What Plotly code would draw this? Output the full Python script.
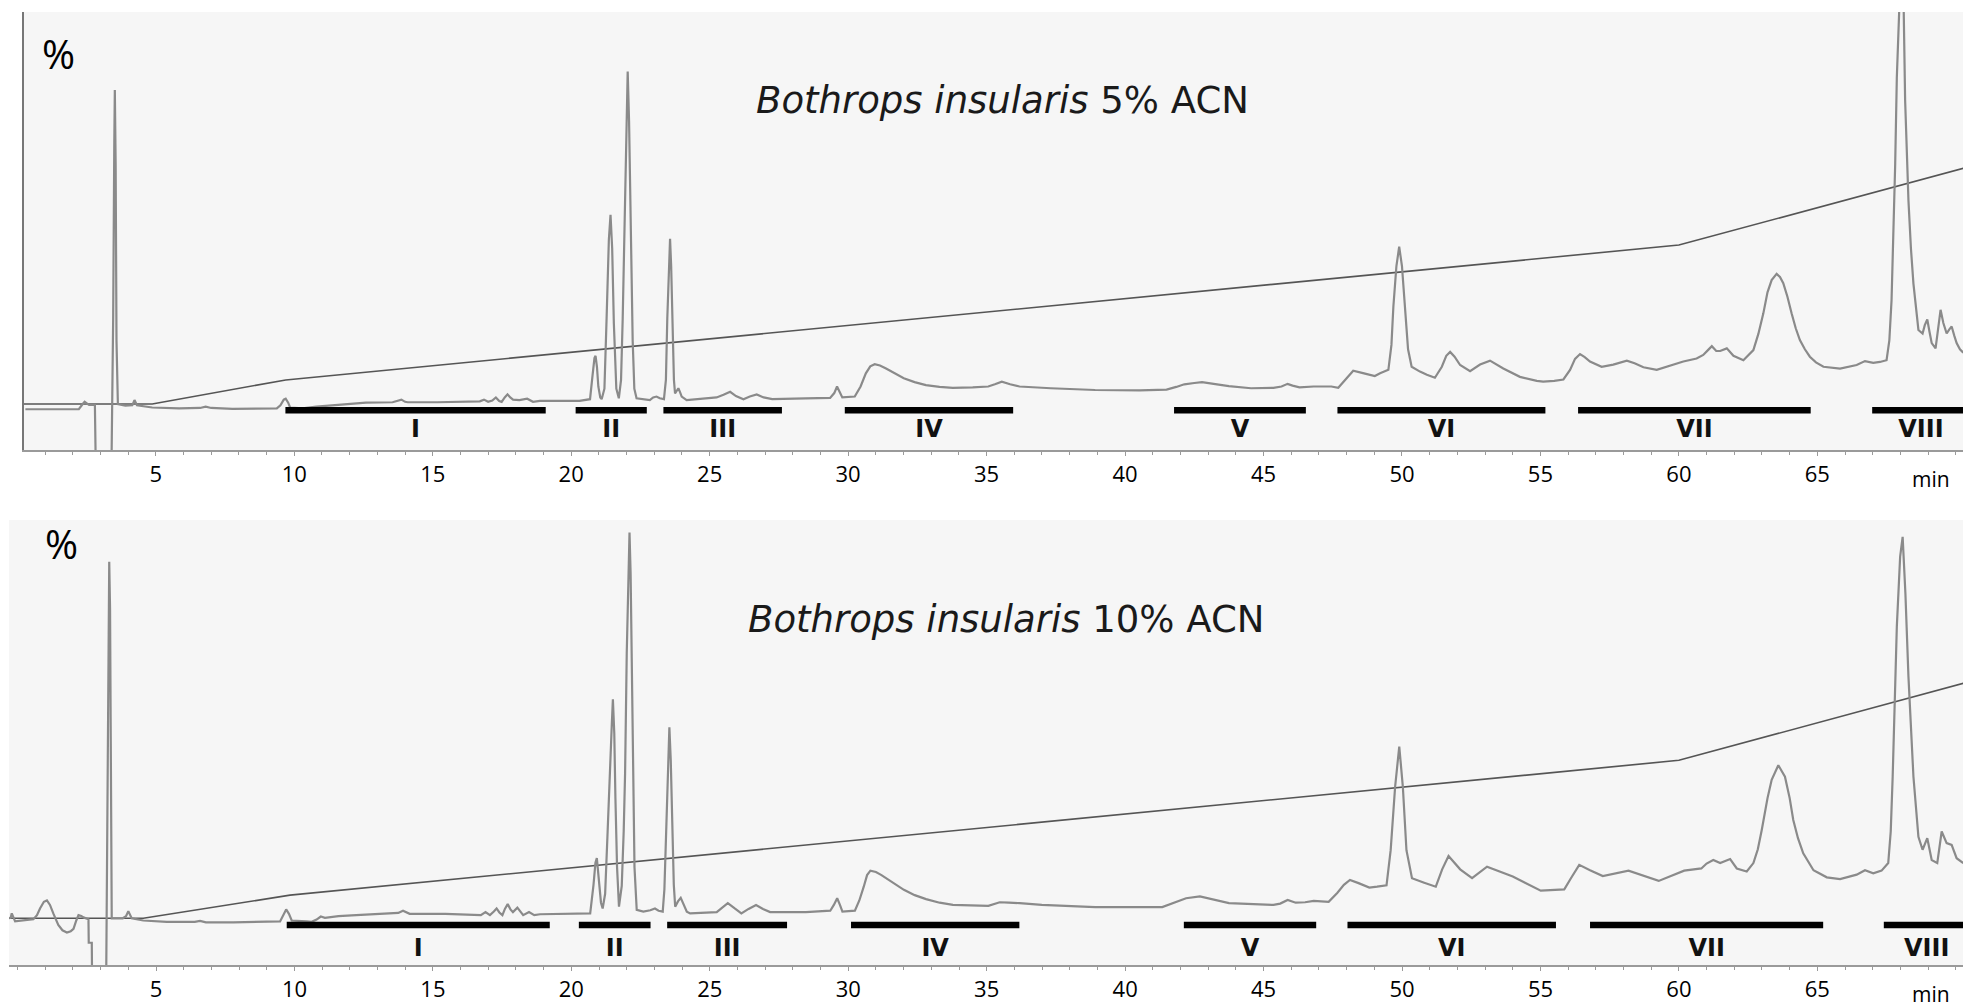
import plotly.graph_objects as go

# ---------------- data ----------------
# Upper chromatogram (5% ACN): retention time (min) and detector signal (% of full scale)
t_5 = [0.29, 2.22, 2.36, 2.43, 2.52, 2.59, 2.80, 2.83, 3.40, 3.46, 3.50, 3.52, 3.55, 3.58, 3.63,
       3.9, 4.15, 4.23, 4.32, 4.57, 4.87, 5.84, 6.6, 6.8, 7.0, 7.77, 9.37, 9.50, 9.62, 9.69, 9.78,
       9.85, 10.3, 10.8, 11.6, 12.59, 13.55, 13.75, 13.87, 14.0, 14.1, 15.16, 16.3, 16.7, 16.85,
       17.0, 17.15, 17.28, 17.4, 17.49, 17.6, 17.7, 17.8, 17.9, 18.13, 18.3, 18.41, 18.62, 18.87,
       20.3, 20.68, 20.77, 20.84, 20.88, 20.93, 20.98, 21.05, 21.10, 21.20, 21.28, 21.36, 21.42,
       21.48, 21.54, 21.63, 21.72, 21.80, 21.86, 21.94, 22.0, 22.04, 22.09, 22.15, 22.22, 22.28,
       22.36, 22.84, 22.96, 23.08, 23.2, 23.35, 23.42, 23.47, 23.53, 23.57, 23.61, 23.66, 23.71,
       23.75, 23.8, 23.87, 23.93, 23.99, 24.17, 25.25, 25.5, 25.74, 25.95, 26.22, 26.45, 26.7,
       26.95, 27.26, 28.47, 29.35, 29.5, 29.6, 29.7, 29.79, 30.24, 30.45, 30.64, 30.8, 30.96,
       31.15, 31.37, 31.7, 32.01, 32.4, 32.81, 33.3, 33.78, 34.5, 35.06, 35.3, 35.55, 35.85,
       36.19, 37.32, 38.92, 40.53, 41.5, 41.85, 42.14, 42.5, 42.78, 43.2, 43.75, 44.55, 45.36,
       45.65, 45.87, 46.05, 46.3, 46.81, 47.45, 47.7, 48.0, 48.24, 48.63, 49.02, 49.21, 49.51,
       49.62, 49.69, 49.80, 49.90, 50.0, 50.11, 50.22, 50.35, 50.65, 50.9, 51.19, 51.44, 51.6,
       51.74, 51.9, 52.10, 52.46, 52.82, 53.18, 53.66, 54.26, 54.87, 55.10, 55.5, 55.83, 56.07,
       56.25, 56.43, 56.6, 56.79, 57.21, 57.63, 58.12, 58.4, 58.72, 59.20, 59.68, 60.16, 60.64,
       60.88, 61.05, 61.19, 61.35, 61.49, 61.73, 61.97, 62.33, 62.69, 62.87, 63.05, 63.2, 63.35,
       63.53, 63.65, 63.77, 63.92, 64.07, 64.22, 64.37, 64.55, 64.73, 64.95, 65.22, 65.82, 66.42,
       66.72, 67.02, 67.26, 67.50, 67.60, 67.68, 67.75, 67.81, 67.87, 67.93, 68.0, 68.05, 68.12,
       68.17, 68.23, 68.29, 68.38, 68.47, 68.65, 68.80, 68.88, 68.97, 69.05, 69.13, 69.27, 69.36,
       69.45, 69.55, 69.67, 69.76, 69.85, 69.95, 70.03, 70.15, 70.27]
signal_5 = [9.3, 9.3, 10.5, 11.0, 10.6, 10.3, 10.3, -3, -3, 30, 70, 82.2, 65, 25, 10.5,
            10.1, 10.2, 11.4, 10.2, 9.9, 9.7, 9.5, 9.6, 9.9, 9.6, 9.4, 9.5, 10.2, 11.5, 11.7, 10.8,
            9.7, 9.5, 9.9, 10.3, 10.8, 10.9, 11.3, 11.5, 11.0, 10.9, 10.9, 11.0, 11.1, 11.5,
            11.0, 11.3, 12.0, 11.2, 11.0, 12.0, 12.7, 12.0, 11.5, 11.4, 11.5, 11.7, 11.0, 11.2,
            11.2, 11.6, 17, 21.0, 21.5, 19, 14.5, 12.0, 11.6, 14, 30.4, 48, 53.7,
            46, 29, 14, 11.8, 16, 30, 55, 78, 86.4, 75, 50, 25, 14,
            11.8, 11.4, 12.0, 12.2, 11.8, 11.6, 16, 30, 44, 48.2, 42, 27, 16,
            12.9, 13.5, 14.1, 13.2, 12.2, 11.4, 12.0, 12.6, 13.3, 12.3, 11.6, 12.2, 12.7,
            12.0, 11.6, 11.8, 11.9, 13.0, 14.5, 13.2, 12.0, 12.2, 14.5, 17.5, 19.1, 19.6,
            19.3, 18.6, 17.5, 16.4, 15.5, 14.8, 14.4, 14.2, 14.3, 14.5, 15.0, 15.6, 15.0,
            14.5, 14.1, 13.7, 13.6, 13.8, 14.4, 15.0, 15.3, 15.5, 15.1, 14.6, 14.1, 14.2,
            14.5, 15.1, 14.7, 14.3, 14.5, 14.5, 14.2, 16.3, 18.1, 17.5, 16.9, 17.5, 18.3,
            24, 32.7, 42, 46.4, 42, 31.2, 23, 19.0, 17.9, 17.2, 16.5, 19.0, 21.5,
            22.4, 21.3, 19.4, 18.0, 19.5, 20.4, 18.6, 16.7, 15.8, 15.6, 15.8, 16.1, 18.3,
            20.8, 21.9, 21.2, 20.2, 19.0, 19.5, 20.4, 19.8, 18.9, 18.3, 19.2, 20.2, 20.9,
            21.7, 22.8, 23.7, 22.6, 22.6, 23.2, 21.5, 20.5, 22.8, 26.5, 31.2, 36, 38.8,
            40.2, 39.5, 38.1, 35, 31.2, 27.8, 25.1, 23, 21.3, 20, 19.0, 18.6, 19.4,
            20.3, 19.9, 20.1, 20.5, 25, 34.2, 50, 64.9, 85, 100, 108, 108, 100,
            79.9, 67, 57, 46, 38, 27.4, 26.6, 28.5, 29.8, 27, 24.4, 23.2, 28,
            32.0, 29, 26.6, 27.5, 28.2, 26, 24.4, 23, 22.2]

# Lower chromatogram (10% ACN)
t_10 = [-0.31, -0.25, -0.21, -0.15, -0.09, 0.57, 0.70, 0.81, 0.95, 1.06, 1.17, 1.29, 1.47, 1.62,
        1.78, 1.92, 2.02, 2.12, 2.20, 2.30, 2.38, 2.56, 2.57, 2.68, 2.69, 3.20, 3.25, 3.29, 3.31,
        3.34, 3.37, 3.40, 3.8, 3.92, 4.0, 4.07, 4.12, 4.54, 5.39, 6.4, 6.59, 6.8, 7.79, 9.48, 9.6,
        9.70, 9.8, 9.90, 10.44, 10.62, 10.8, 10.95, 11.1, 11.59, 12.23, 13.04, 13.75, 13.92,
        14.16, 15.45, 16.73, 16.9, 17.06, 17.2, 17.3, 17.4, 17.51, 17.6, 17.7, 17.8, 17.89,
        18.05, 18.15, 18.26, 18.47, 18.66, 18.87, 20.68, 20.80, 20.87, 20.92, 20.96, 21.01,
        21.07, 21.13, 21.22, 21.31, 21.40, 21.46, 21.50, 21.55, 21.59, 21.65, 21.72, 21.82,
        21.89, 21.94, 22.0, 22.06, 22.10, 22.14, 22.18, 22.22, 22.28, 22.36, 22.60, 22.85,
        23.02, 23.15, 23.30, 23.36, 23.42, 23.49, 23.54, 23.59, 23.64, 23.70, 23.75, 23.85,
        23.95, 24.05, 24.17, 24.29, 25.25, 25.45, 25.65, 25.9, 26.14, 26.4, 26.67, 26.92,
        27.18, 28.47, 29.35, 29.48, 29.6, 29.7, 29.79, 30.24, 30.4, 30.56, 30.68, 30.8, 31.0,
        31.2, 31.6, 32.01, 32.4, 32.81, 33.3, 33.78, 35.06, 35.25, 35.47, 35.8, 36.19, 36.99,
        38.92, 41.34, 41.74, 42.2, 42.7, 43.2, 43.75, 45.36, 45.6, 45.87, 46.16, 46.5, 46.81,
        47.35, 47.66, 47.9, 48.12, 48.43, 48.82, 49.1, 49.44, 49.59, 49.75, 49.90, 50.03,
        50.16, 50.36, 50.8, 51.22, 51.45, 51.68, 52.1, 52.53, 53.07, 54.0, 55.01, 55.86, 56.1,
        56.40, 56.79, 57.25, 58.18, 59.27, 60.19, 60.81, 61.0, 61.24, 61.49, 61.85, 62.09,
        62.45, 62.69, 62.85, 62.99, 63.2, 63.35, 63.59, 63.83, 64.0, 64.13, 64.3, 64.49, 64.86,
        65.34, 65.82, 66.42, 66.72, 67.02, 67.32, 67.56, 67.65, 67.72, 67.80, 67.87, 67.99,
        68.08, 68.18, 68.29, 68.47, 68.65, 68.80, 68.97, 69.13, 69.33, 69.49, 69.67, 69.85,
        70.03, 70.27]
signal_10 = [10.5, 10.6, 11.6, 10.5, 9.8, 10.3, 11.2, 12.7, 14.2, 14.5, 13.5, 11.6, 9.0, 7.8,
             7.3, 7.6, 8.1, 10.0, 11.2, 11.0, 10.7, 10.3, 5.0, 5.0, -3, -3, 40, 80, 90.6,
             80, 40, 10.5, 10.5, 11.0, 12.1, 11.0, 10.5, 10.0, 9.7, 9.7, 9.9, 9.6, 9.6, 9.8, 11.3,
             12.5, 11.5, 10.0, 9.8, 9.7, 10.2, 10.9, 10.6, 11.0, 11.2, 11.4, 11.7, 12.2,
             11.5, 11.5, 11.2, 11.9, 11.2, 12.0, 12.7, 11.8, 11.2, 12.6, 13.7, 12.5, 11.9,
             12.9, 12.0, 11.2, 11.9, 11.2, 11.4, 11.6, 18, 23, 24.0, 21, 17.6,
             14, 12.7, 16, 30, 42.3, 54, 59.7, 52, 37.8, 22, 13.1, 17.8,
             30, 43, 70, 90, 97.2, 88, 65, 42.3, 22, 12.4, 12.0, 12.3,
             12.7, 12.2, 12.0, 17, 28, 45, 53.4, 46, 30, 18, 13.1, 14.3,
             15.1, 13.8, 12.0, 11.6, 11.9, 12.9, 13.9, 12.7, 11.6, 12.6, 13.5, 12.6,
             11.9, 11.9, 12.2, 13.5, 15.0, 13.5, 12.0, 12.2, 14.5, 17.6, 20.2, 21.2, 20.9,
             20.2, 18.6, 16.9, 15.7, 14.8, 14.0, 13.5, 13.3, 13.7, 14.1, 14.0, 13.9, 13.5,
             13.0, 13.0, 14.0, 15.0, 15.4, 14.7, 13.9, 13.5, 13.8, 14.6, 14.0, 14.1, 14.4,
             14.2, 16.2, 18.0, 19.1, 18.4, 17.4, 17.6, 17.9, 25.8, 40, 49.1, 40,
             25.8, 19.5, 18.5, 17.6, 21.5, 24.5, 21.5, 19.5, 22.1, 19.9, 16.7, 17.0, 19.5,
             22.5, 21.3, 20.0, 21.2, 18.9, 21.2, 21.7, 22.8, 23.6, 22.9, 23.8, 21.7,
             21.0, 22.9, 26, 30.3, 37.5, 41.6, 44.9, 42.3, 37.5, 32.6, 28.5, 25.1, 21.3,
             19.7, 19.3, 20.3, 21.3, 20.6, 21.2, 22.9, 30, 42.3, 60, 76.0, 91.8,
             96.2, 83.5, 64.8, 42.3, 28.8, 25.9, 28.5, 23.6, 22.9, 30.0, 27.4, 27.0,
             24.0, 22.9]

# Acetonitrile gradient lines (break points)
grad_t_5 = [0.24, 4.87, 9.69, 60.0, 70.27]
grad_5 = [10.5, 10.5, 16.0, 46.8, 64.3]
grad_t_10 = [-0.31, 4.54, 9.84, 60.0, 70.27]
grad_10 = [10.5, 10.5, 15.7, 46.0, 63.3]

# Collected fractions (start / end in min)
fractions = ["I", "II", "III", "IV", "V", "VI", "VII", "VIII"]
frac_start_5 = [9.68, 20.16, 23.33, 29.88, 41.77, 47.67, 56.36, 66.98]
frac_end_5 = [19.08, 22.73, 27.61, 35.96, 46.53, 55.18, 64.76, 70.5]
frac_start_10 = [9.72, 20.27, 23.46, 30.10, 42.12, 48.03, 56.79, 67.40]
frac_end_10 = [19.22, 22.86, 27.79, 36.18, 46.90, 55.56, 65.21, 70.5]

titles = ["<i>Bothrops insularis</i> 5% ACN", "<i>Bothrops insularis</i> 10% ACN"]
tick_vals = [5, 10, 15, 20, 25, 30, 35, 40, 45, 50, 55, 60, 65]

# ---------------- figure ----------------
W, H = 1971, 1008
TRACE = "#8a8a8a"
GRAD = "#555555"

fig = go.Figure()

panels = [
    dict(t=t_5, s=signal_5, gt=grad_t_5, g=grad_5, fs=frac_start_5, fe=frac_end_5,
         xa="x", ya="y", bar=9.1, lab=4.3, title=titles[0], tt=35.56, tv=79.9,
         px=0.018, py=0.906),
    dict(t=t_10, s=signal_10, gt=grad_t_10, g=grad_10, fs=frac_start_10, fe=frac_end_10,
         xa="x2", ya="y2", bar=9.0, lab=3.4, title=titles[1], tt=35.68, tv=77.6,
         px=0.027, py=0.948),
]

for p in panels:
    xdom = p["xa"] + " domain"
    ydom = p["ya"] + " domain"
    fig.add_trace(go.Scatter(x=p["gt"], y=p["g"], mode="lines", xaxis=p["xa"], yaxis=p["ya"],
                             line=dict(color=GRAD, width=1.6), hoverinfo="skip"))
    fig.add_trace(go.Scatter(x=p["t"], y=p["s"], mode="lines", xaxis=p["xa"], yaxis=p["ya"],
                             line=dict(color=TRACE, width=2.2), hoverinfo="skip"))
    bx, by = [], []
    for s, e in zip(p["fs"], p["fe"]):
        bx += [s, e, None]
        by += [p["bar"], p["bar"], None]
    fig.add_trace(go.Scatter(x=bx, y=by, mode="lines", xaxis=p["xa"], yaxis=p["ya"],
                             line=dict(color="black", width=6.5), hoverinfo="skip"))
    mids = [(s + e) / 2 for s, e in zip(p["fs"], p["fe"])]
    fig.add_trace(go.Scatter(x=mids, y=[p["lab"]] * len(mids), mode="text", text=fractions,
                             xaxis=p["xa"], yaxis=p["ya"], cliponaxis=False,
                             textfont=dict(family="DejaVu Sans", size=24, color="#111111",
                                           weight="bold"),
                             hoverinfo="skip"))
    fig.add_annotation(x=p["tt"], y=p["tv"], xref=p["xa"], yref=p["ya"], text=p["title"],
                       showarrow=False, font=dict(family="DejaVu Sans", size=37, color="#1a1a1a"))
    fig.add_annotation(x=p["px"], y=p["py"], xref=xdom, yref=ydom,
                       text="%", showarrow=False, xanchor="center", yanchor="middle",
                       font=dict(family="Open Sans", size=40, color="black"))
    fig.add_annotation(x=69.1, y=0, xref=p["xa"], yref=ydom,
                       yshift=-29, text="min", showarrow=False, yanchor="middle",
                       font=dict(family="Open Sans", size=21, color="black"))

axis_common = dict(
    showgrid=False, zeroline=False, showline=True, linecolor="#9a9a9a", linewidth=2,
    ticks="outside", ticklen=4, tickcolor="#9a9a9a", tickwidth=1,
    tickvals=tick_vals, ticklabelstandoff=0,
    tickfont=dict(family="Open Sans", size=22, color="black"),
    minor=dict(ticks="outside", ticklen=3, dtick=1, tickcolor="#9a9a9a", tickwidth=1),
)

fig.update_layout(
    width=W, height=H, margin=dict(l=0, r=0, t=0, b=0),
    paper_bgcolor="white", plot_bgcolor="#f6f6f6", showlegend=False,
    xaxis=dict(domain=[24 / W, 1963 / W], range=[0.24, 70.26], anchor="y", **axis_common),
    yaxis=dict(domain=[1 - 450 / H, 1 - 12 / H], range=[0, 100], anchor="x",
               showgrid=False, zeroline=False, showticklabels=False, ticks="",
               showline=True, linecolor="#777777", linewidth=2),
    xaxis2=dict(domain=[9 / W, 1963 / W], range=[-0.31, 70.26], anchor="y2", **axis_common),
    yaxis2=dict(domain=[1 - 965 / H, 1 - 520 / H], range=[0, 100], anchor="x2",
                showgrid=False, zeroline=False, showticklabels=False, ticks="",
                showline=False),
    hovermode=False,
)

fig.write_html("out.html", config={"displayModeBar": False},
               post_script="document.body.style.margin='0';document.body.style.overflow='hidden';")
